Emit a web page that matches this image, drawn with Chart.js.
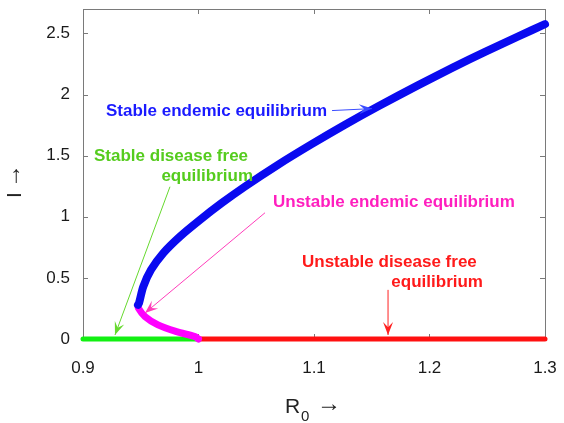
<!DOCTYPE html>
<html>
<head>
<meta charset="utf-8">
<script src="https://cdn.jsdelivr.net/npm/chart.js@4/dist/chart.umd.min.js"></script>
<style>
  html, body { margin: 0; padding: 0; background: #fff; }
  #wrap { width: 564px; height: 423px; }
</style>
</head>
<body>
<div id="wrap"><canvas id="chart"></canvas></div>
<script>
// branch values (R0, I)
const stableR = [0.9476, 0.9485, 0.9522, 0.9589, 0.9695, 0.984, 1.0013, 1.0201, 1.0403, 1.0691, 1.098, 1.1268, 1.1557, 1.1903, 1.2192, 1.2481, 1.2769, 1.3];
const stableI = [0.279, 0.293, 0.429, 0.566, 0.703, 0.839, 0.975, 1.112, 1.248, 1.427, 1.594, 1.753, 1.904, 2.077, 2.216, 2.349, 2.476, 2.576];
const unstableR = [0.9476, 0.9479, 0.9537, 0.9649, 0.9811, 0.997, 1.0];
const unstableI = [0.279, 0.254, 0.183, 0.115, 0.060, 0.019, 0];
const dfeStableR = [0.9, 1.0];
const dfeStableI = [0, 0];
const dfeUnstableR = [1.0, 1.3];
const dfeUnstableI = [0, 0];

const xTicks = [0.9, 1, 1.1, 1.2, 1.3];
const yTicks = [0, 0.5, 1, 1.5, 2, 2.5];

const FONT = '"Liberation Sans", Arial, Helvetica, sans-serif';

function pts(xs, ys) {
  return xs.map((x, i) => ({ x, y: ys[i] }));
}

// labels and arrows, in data coordinates
const notes = [
  { lines: [{ t: "Stable endemic equilibrium", x: 0.9199, y: 1.861, align: "left" }],
    color: "#1a1aff", arrow: [1.1156, 1.869, 1.1502, 1.885], arrowColor: "#3a4cff" },
  { lines: [{ t: "Stable disease free", x: 1.0429, y: 1.492, align: "right" },
            { t: "equilibrium", x: 1.0472, y: 1.328, align: "right" }],
    color: "#55cc1e", arrow: [0.9753, 1.246, 0.9277, 0.033], arrowColor: "#66d92e" },
  { lines: [{ t: "Unstable endemic equilibrium", x: 1.0645, y: 1.115, align: "left" }],
    color: "#ff1fbf", arrow: [1.0576, 1.033, 0.9537, 0.213], arrowColor: "#ff3dba" },
  { lines: [{ t: "Unstable disease free", x: 1.0896, y: 0.631, align: "left" },
            { t: "equilibrium", x: 1.2463, y: 0.467, align: "right" }],
    color: "#ff1a1a", arrow: [1.1641, 0.402, 1.1641, 0.033], arrowColor: "#ff2020" },
];

function arrowHead(ctx, x1, y1, x2, y2, len, half) {
  const a = Math.atan2(y2 - y1, x2 - x1);
  const c = Math.cos(a), s = Math.sin(a);
  const bx = x2 - c * len, by = y2 - s * len;
  const nx = x2 - c * len * 0.6, ny = y2 - s * len * 0.6;
  ctx.beginPath();
  ctx.moveTo(x2, y2);
  ctx.lineTo(bx - s * half, by + c * half);
  ctx.lineTo(nx, ny);
  ctx.lineTo(bx + s * half, by - c * half);
  ctx.closePath();
  ctx.fill();
}

const framePlugin = {
  id: "frame",
  beforeDatasetsDraw(chart) {
    const { ctx, chartArea: a, scales } = chart;
    ctx.save();
    ctx.strokeStyle = "#7a7a7a";
    ctx.lineWidth = 1;
    ctx.strokeRect(a.left + 0.5, a.top + 0.5, a.right - a.left, a.bottom - a.top);
    ctx.beginPath();
    xTicks.forEach((v) => {
      const px = Math.round(scales.x.getPixelForValue(v)) + 0.5;
      ctx.moveTo(px, a.bottom); ctx.lineTo(px, a.bottom - 5);
      ctx.moveTo(px, a.top); ctx.lineTo(px, a.top + 5);
    });
    yTicks.forEach((v) => {
      const py = Math.round(scales.y.getPixelForValue(v)) + 0.5;
      ctx.moveTo(a.left, py); ctx.lineTo(a.left + 5, py);
      ctx.moveTo(a.right, py); ctx.lineTo(a.right - 5, py);
    });
    ctx.stroke();
    ctx.restore();
  },
  afterDatasetsDraw(chart) {
    const { ctx, scales } = chart;
    const X = (v) => scales.x.getPixelForValue(v);
    const Y = (v) => scales.y.getPixelForValue(v);
    ctx.save();
    notes.forEach((n) => {
      ctx.font = "bold 17px " + FONT;
      ctx.fillStyle = n.color;
      ctx.textBaseline = "middle";
      n.lines.forEach((l) => {
        ctx.textAlign = l.align;
        ctx.fillText(l.t, X(l.x), Y(l.y));
      });
      const [ax1, ay1, ax2, ay2] = n.arrow;
      const x1 = X(ax1), y1 = Y(ay1), x2 = X(ax2), y2 = Y(ay2);
      ctx.strokeStyle = n.arrowColor;
      ctx.fillStyle = n.arrowColor;
      ctx.lineWidth = 1;
      ctx.beginPath();
      ctx.moveTo(x1, y1);
      ctx.lineTo(x2, y2);
      ctx.stroke();
      arrowHead(ctx, x1, y1, x2, y2, 13, 5);
    });

    // axis titles
    ctx.fillStyle = "#222";
    ctx.textBaseline = "alphabetic";
    ctx.textAlign = "left";
    ctx.font = "21px " + FONT;
    ctx.fillText("R", 285, 413);
    ctx.font = "15px " + FONT;
    ctx.fillText("0", 301, 421);
    ctx.font = "24px " + FONT;
    ctx.fillText("\u2192", 317, 411);

    ctx.translate(21, 198);
    ctx.rotate(-Math.PI / 2);
    ctx.font = "21px " + FONT;
    ctx.fillText("I", 0, 0);
    ctx.font = "24px " + FONT;
    ctx.fillText("\u2192", 10, -1);
    ctx.restore();
  },
};

const lineDs = (label, data, color, width) => ({
  label, data,
  borderColor: color,
  backgroundColor: color,
  borderWidth: width,
  borderCapStyle: "round",
  borderJoinStyle: "round",
  pointRadius: 0,
  showLine: true,
  tension: 0.3,
  clip: 8,
});

const noPad = (s) => {
  s.paddingTop = 0; s.paddingBottom = 0; s.paddingLeft = 0; s.paddingRight = 0;
};

new Chart(document.getElementById("chart"), {
  type: "scatter",
  data: {
    datasets: [
      lineDs("Stable endemic", pts(stableR, stableI), "#0a0af0", 8),
      lineDs("Unstable endemic", pts(unstableR, unstableI), "#ff00ff", 7),
      lineDs("Stable DFE", pts(dfeStableR, dfeStableI), "#12f012", 5),
      lineDs("Unstable DFE", pts(dfeUnstableR, dfeUnstableI), "#ff1010", 5),
    ],
  },
  options: {
    responsive: true,
    maintainAspectRatio: false,
    animation: false,
    layout: { padding: { top: 9, right: 19, left: 0, bottom: 0 } },
    plugins: { legend: { display: false }, tooltip: { enabled: false } },
    scales: {
      x: {
        type: "linear",
        min: 0.9, max: 1.3,
        afterBuildTicks: (s) => { s.ticks = xTicks.map((v) => ({ value: v })); },
        afterFit: (s) => { s.height = 84; noPad(s); },
        grid: { display: false, drawTicks: false },
        border: { display: false },
        ticks: {
          padding: 19,
          color: "#1a1a1a",
          font: { family: FONT, size: 17 },
          maxRotation: 0,
          callback: (v) => String(Math.round(v * 10) / 10),
        },
      },
      y: {
        type: "linear",
        min: 0, max: 2.7,
        afterBuildTicks: (s) => { s.ticks = yTicks.map((v) => ({ value: v })); },
        afterFit: (s) => { s.width = 83; noPad(s); },
        grid: { display: false, drawTicks: false },
        border: { display: false },
        ticks: {
          padding: 13,
          color: "#1a1a1a",
          font: { family: FONT, size: 17 },
          callback: (v) => String(v),
        },
      },
    },
  },
  plugins: [framePlugin],
});
</script>
</body>
</html>
